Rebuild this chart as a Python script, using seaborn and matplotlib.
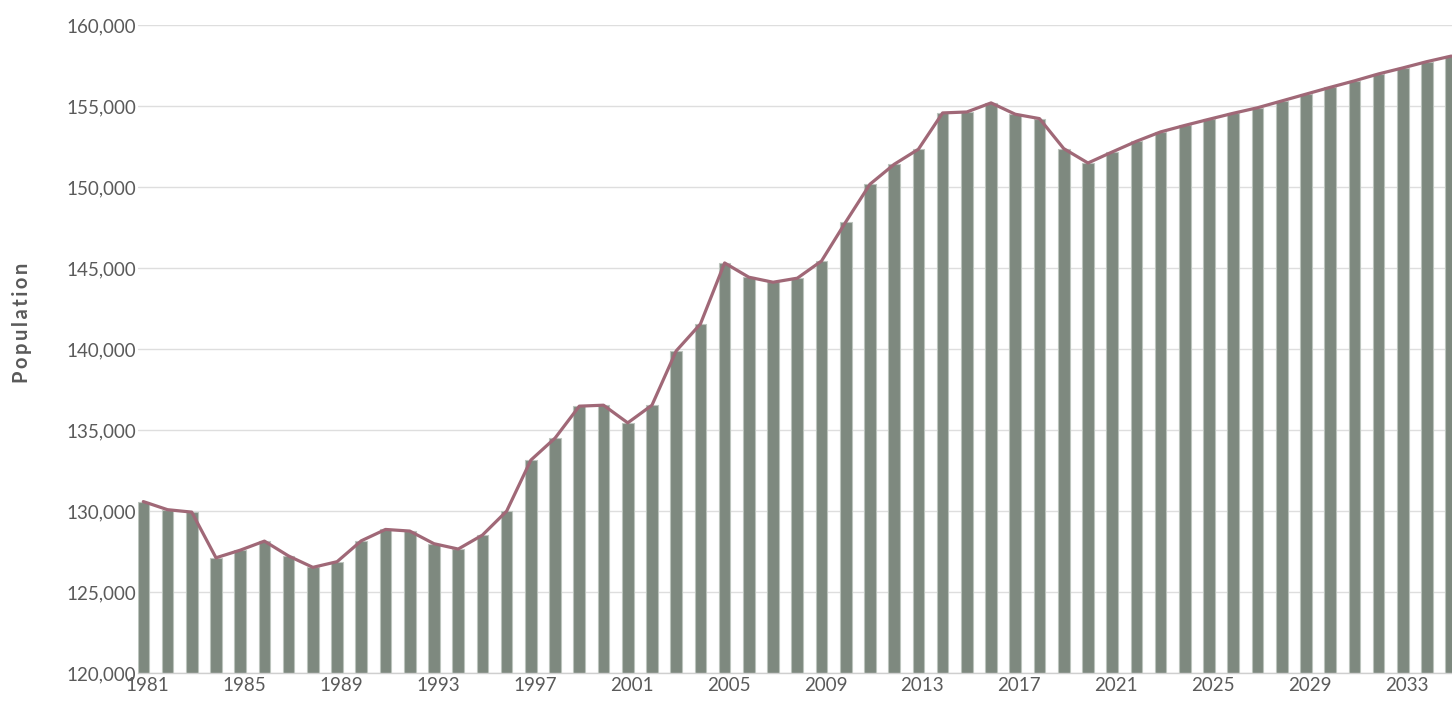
import matplotlib
matplotlib.use("Agg")
import matplotlib.pyplot as plt
import matplotlib.transforms as mtransforms
from matplotlib.ticker import FuncFormatter
import pandas as pd
import seaborn as sns

years = list(range(1981, 2036))
population = [
    130600, 130100, 129950, 127130, 127600, 128160, 127240, 126540, 126890, 128180,
    128880, 128780, 128000, 127670, 128530, 130010, 133160, 134520, 136490, 136550,
    135460, 136550, 139900, 141560, 145330, 144450, 144140, 144390, 145450, 147860,
    150190, 151420, 152350, 154590, 154650, 155210, 154510, 154240, 152390, 151500,
    152180, 152840, 153420, 153820, 154200, 154570, 154910, 155330, 155750, 156170,
    156570, 157000, 157370, 157760, 158100,
]
tick_years = [y for y in years if (y - 1981) % 4 == 0 and y <= 2033]
y_ticks = list(range(120000, 160001, 5000))

bar_color = "#7e897f"
line_color = "#a06877"
text_color = "#5a5a5a"

df = pd.DataFrame({"year": years, "population": population})

sns.set_style("white")
plt.rcParams["font.family"] = ["Lato", "DejaVu Sans"]

fig = plt.figure(figsize=(14.52, 7.01), dpi=100)
ax = fig.add_axes([137.5 / 1452, 27.7 / 701, (1452 - 137.5) / 1452, 648 / 701])

sns.barplot(data=df, x="year", y="population", native_scale=True, width=0.48,
            color=bar_color, edgecolor="#bcc4bd", linewidth=0.8, saturation=1,
            errorbar=None, ax=ax, zorder=2)
sns.lineplot(data=df, x="year", y="population", color=line_color, linewidth=2.3,
             ax=ax, zorder=3)

ax.set_ylim(120000, 160000)
ax.set_xlim(1981 - 0.24, 2035.03)
ax.set_yticks(y_ticks)
ax.yaxis.set_major_formatter(FuncFormatter(lambda v, p: f"{int(v):,}"))
ax.set_xticks(tick_years)
ax.set_xticklabels([str(y) for y in tick_years])

ax.grid(axis="y", color="#dedede", linewidth=1.0, zorder=0)
ax.set_axisbelow(True)
for s in ["left", "right", "top"]:
    ax.spines[s].set_visible(False)
ax.spines["bottom"].set_color("#cfcfcf")
ax.spines["bottom"].set_linewidth(1.0)

ax.tick_params(axis="both", length=0, labelsize=13.5, labelcolor=text_color)
ax.tick_params(axis="y", pad=1)
ax.tick_params(axis="x", pad=3)
offset = mtransforms.ScaledTranslation(4 / 100, 0, fig.dpi_scale_trans)
for lbl in ax.get_xticklabels():
    lbl.set_transform(lbl.get_transform() + offset)

ax.set_xlabel("")
ax.set_ylabel("")
# letter-spaced axis title
fig.text(22 / 1452, 1 - 323 / 701, "\u2009".join("Population"), rotation=90,
         ha="center", va="center", fontsize=14.5, fontweight="bold", color=text_color)

fig.savefig("out.png", dpi=100)
